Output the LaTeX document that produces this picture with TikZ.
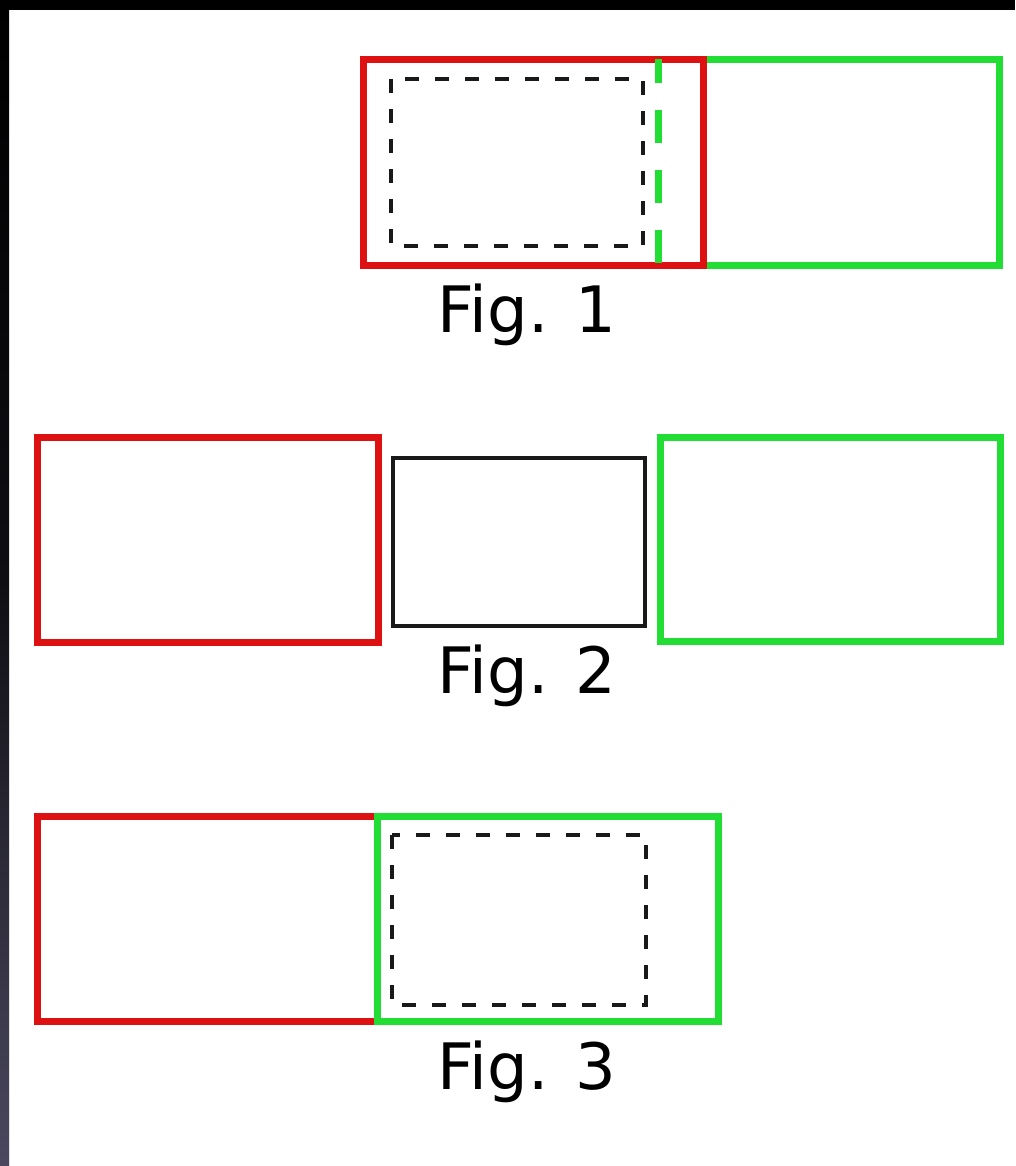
\documentclass[tikz,border=0pt]{standalone}
\usepackage{fontspec}
\setmainfont{DejaVu Sans}
\definecolor{rred}{RGB}{221,17,17}
\definecolor{ggreen}{RGB}{34,221,51}
\definecolor{edgeblue}{RGB}{75,72,95}
\tikzset{
  redbox/.style={draw=rred, line width=7pt},
  greenbox/.style={draw=ggreen, line width=7pt},
  greendash/.style={draw=ggreen, line width=7pt, dash pattern=on 33pt off 27pt, dash phase=9pt},
  blackdash/.style={draw=black!90, line width=3.5pt, dash pattern=on 14pt off 16pt},
  blackbox/.style={draw=black!90, line width=3.2pt},
  figlabel/.style={anchor=base, inner sep=0pt, font=\fontsize{64}{70}\selectfont}
}
\begin{document}
\begin{tikzpicture}[x=1pt,y=-1pt]
\useasboundingbox (0,0) rectangle (1015,1166);
\fill[white] (0,0) rectangle (1015,1166);
% dark frame
\shade[top color=black, bottom color=edgeblue, middle color=black!80!edgeblue] (0,0) rectangle (9,1166);
\fill[black] (0,0) rectangle (1015,10);
\fill[gray!25] (9,10) rectangle (10,1166);

% Fig. 1
\draw[greenbox] (703,60) rectangle (999,265);
\draw[redbox] (363,60) rectangle (703,265);
\draw[blackdash] (391,79) rectangle (643,246);
\draw[greendash] (658,59) -- (658,265);
\node[figlabel] (f1) at (527,332) {Fig. 1};

% Fig. 2
\draw[redbox] (37,437) rectangle (378,642);
\draw[blackbox] (393,458) rectangle (645,626);
\draw[greenbox] (660,437) rectangle (1000,641);
\node[figlabel] (f2) at (527,693) {Fig. 2};

% Fig. 3
\draw[redbox] (37,816) rectangle (377,1021);
\draw[greenbox] (377,816) rectangle (718,1021);
\draw[blackdash] (392,835) rectangle (646,1005);
\node[figlabel] (f3) at (527,1089) {Fig. 3};
\end{tikzpicture}
\end{document}
